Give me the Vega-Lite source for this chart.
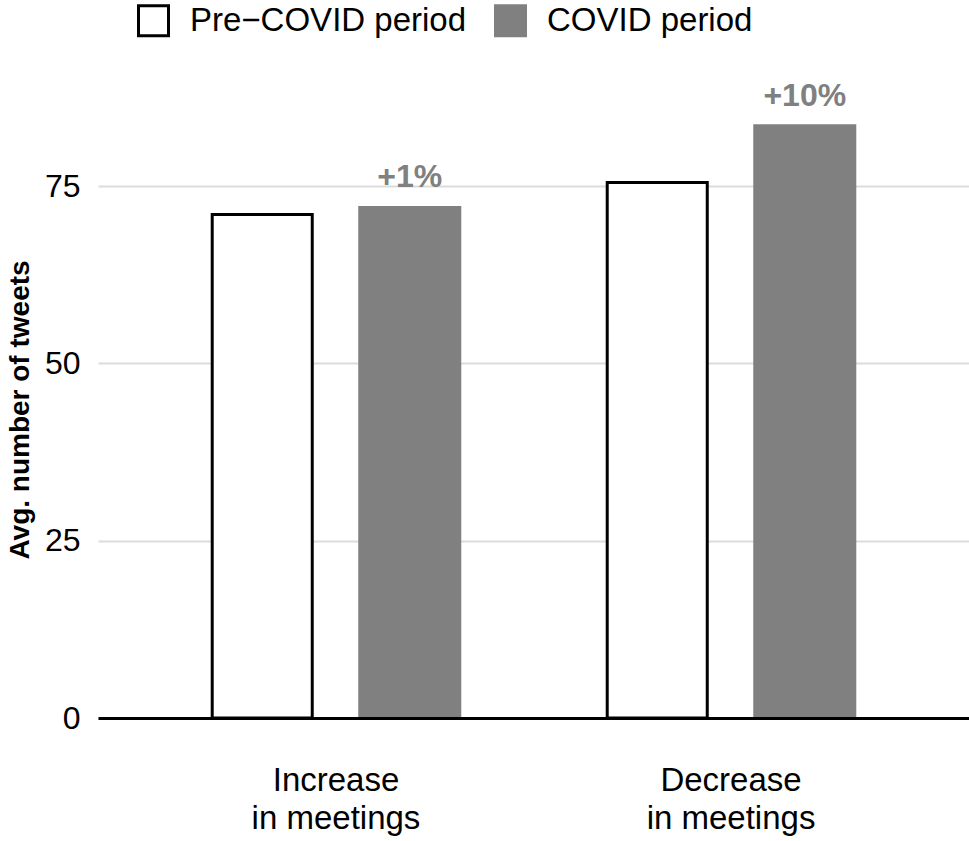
{
  "$schema": "https://vega.github.io/schema/vega-lite/v6.json",
  "width": 871,
  "height": 617,
  "autosize": {"type": "none"},
  "padding": {"left": 98, "top": 101, "right": 0, "bottom": 123},
  "background": "white",
  "config": {
    "view": {"stroke": null},
    "font": "Liberation Sans"
  },
  "data": {
    "values": [
      {"category": "Increase in meetings", "period": "Pre−COVID period", "value": 71.0, "label": ""},
      {"category": "Increase in meetings", "period": "COVID period", "value": 72.0, "label": "+1%"},
      {"category": "Decrease in meetings", "period": "Pre−COVID period", "value": 75.5, "label": ""},
      {"category": "Decrease in meetings", "period": "COVID period", "value": 83.5, "label": "+10%"}
    ]
  },
  "encoding": {
    "x": {
      "field": "category",
      "type": "nominal",
      "sort": ["Increase in meetings", "Decrease in meetings"],
      "scale": {"paddingInner": 0.253, "paddingOuter": 0.229},
      "axis": {
        "title": null,
        "labelAngle": 0,
        "labelFontSize": 33,
        "labelColor": "black",
        "labelPadding": 46,
        "labelLineHeight": 38,
        "labelLimit": 0,
        "labelExpr": "[split(datum.label, ' ')[0], 'in meetings']",
        "ticks": false,
        "domainColor": "black",
        "domainWidth": 3,
        "grid": false,
        "zindex": 1
      }
    },
    "xOffset": {
      "field": "period",
      "type": "nominal",
      "sort": ["Pre−COVID period", "COVID period"],
      "scale": {"paddingInner": 0.322, "paddingOuter": 0.161}
    },
    "y": {
      "field": "value",
      "type": "quantitative",
      "scale": {"domain": [0, 87], "nice": false},
      "axis": {
        "values": [0, 25, 50, 75],
        "title": "Avg. number of tweets",
        "titleFontSize": 28,
        "titleFontWeight": "bold",
        "titleColor": "black",
        "titlePadding": 10,
        "labelFontSize": 32,
        "labelColor": "black",
        "labelPadding": 18,
        "ticks": false,
        "domain": false,
        "gridColor": "#dcdcdc",
        "gridWidth": 2
      }
    }
  },
  "layer": [
    {
      "mark": {"type": "bar", "strokeWidth": 3},
      "encoding": {
        "fill": {
          "field": "period",
          "type": "nominal",
          "scale": {"domain": ["Pre−COVID period", "COVID period"], "range": ["white", "#808080"]},
          "legend": {
            "title": null,
            "orient": "none",
            "legendX": 39,
            "legendY": -97,
            "direction": "horizontal",
            "symbolType": "square",
            "symbolSize": 900,
            "symbolStrokeWidth": 3,
            "labelFontSize": 33,
            "labelColor": "black",
            "labelLimit": 0,
            "labelOffset": 20,
            "columnPadding": 22
          }
        },
        "stroke": {
          "field": "period",
          "type": "nominal",
          "scale": {"domain": ["Pre−COVID period", "COVID period"], "range": ["black", "#808080"]},
          "legend": null
        }
      }
    },
    {
      "transform": [{"filter": "datum.label != ''"}],
      "mark": {"type": "text", "fontSize": 32, "fontWeight": "bold", "color": "#808080", "baseline": "alphabetic", "dy": -20},
      "encoding": {
        "text": {"field": "label"}
      }
    }
  ]
}
